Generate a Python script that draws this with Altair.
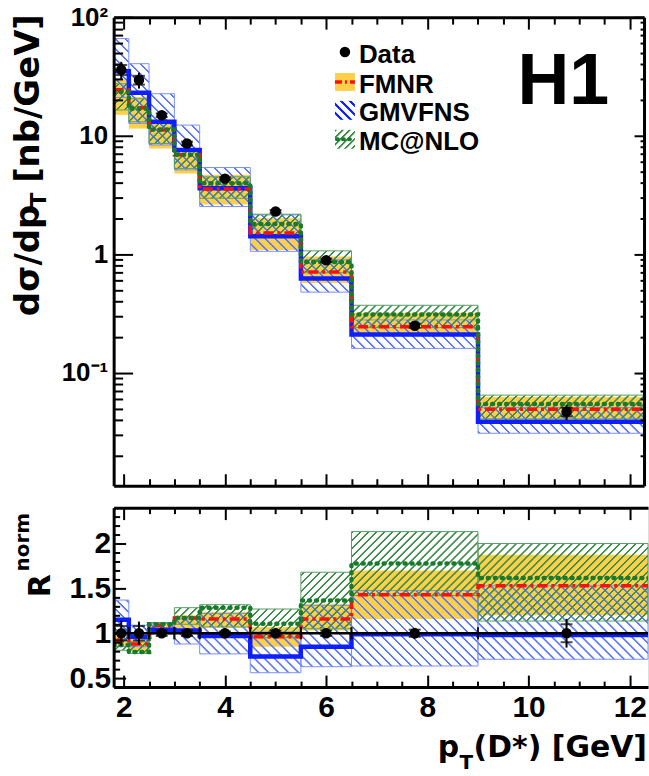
import math
import altair as alt
import pandas as pd

# ---------------- data ----------------
bin_lo = [1.8, 2.1, 2.5, 3.0, 3.5, 4.5, 5.5, 6.5, 9.0]
bin_hi = [2.1, 2.5, 3.0, 3.5, 4.5, 5.5, 6.5, 9.0, 12.5]
pt_x = [1.95, 2.3, 2.75, 3.25, 4.0, 5.0, 6.0, 7.75, 10.75]

data_xs = [36.0, 29.5, 14.9, 8.6, 4.35, 2.3, 0.89, 0.25, 0.047]
data_err = [6.0, 4.5, 1.3, 0.7, 0.3, 0.15, 0.07, 0.02, 0.007]
data_stat = [3.5, 2.5, 0.5, 0.3, 0.1, 0.06, 0.03, 0.01, 0.004]

fmnr = [24.4, 17.2, 11.2, 6.9, 3.55, 1.51, 0.71, 0.245, 0.0495]
fmnr_lo = [15.0, 11.5, 7.8, 4.8, 2.63, 1.09, 0.574, 0.205, 0.0408]
fmnr_hi = [30.0, 21.3, 13.1, 7.8, 4.7, 2.02, 0.96, 0.321, 0.0628]

gmvfns = [35.0, 23.0, 13.1, 7.6, 3.6, 1.42, 0.625, 0.211, 0.0387]
gmvfns_lo = [21.0, 12.7, 8.35, 5.15, 2.53, 1.06, 0.48, 0.161, 0.031]
gmvfns_hi = [66.0, 40.5, 22.6, 12.3, 5.4, 2.15, 0.90, 0.28, 0.051]

mcnlo = [23.5, 16.9, 11.3, 6.9, 3.97, 1.8, 0.86, 0.311, 0.0546]
mcnlo_lo = [16.5, 13.1, 8.6, 5.3, 2.97, 1.42, 0.70, 0.241, 0.041]
mcnlo_hi = [27.4, 20.5, 12.7, 7.6, 4.5, 2.18, 1.07, 0.372, 0.065]

r_data = [1.0, 1.0, 1.0, 1.0, 1.0, 1.0, 1.0, 1.0, 1.0]
r_err = [0.14, 0.13, 0.05, 0.05, 0.04, 0.04, 0.04, 0.06, 0.16]
r_stat = [0.08, 0.08, 0.03, 0.03, 0.02, 0.03, 0.03, 0.04, 0.10]
r_fmnr = [0.92, 0.88, 1.09, 1.17, 1.16, 0.96, 1.16, 1.43, 1.53]
r_fmnr_lo = [0.85, 0.80, 1.00, 1.05, 1.06, 0.85, 1.03, 1.16, 1.20]
r_fmnr_hi = [1.02, 0.95, 1.11, 1.20, 1.24, 1.07, 1.33, 1.70, 1.875]
r_gmvfns = [1.15, 0.96, 1.04, 1.03, 0.97, 0.74, 0.85, 0.99, 0.98]
r_gmvfns_lo = [0.85, 0.85, 0.99, 0.88, 0.77, 0.56, 0.627, 0.635, 0.71]
r_gmvfns_hi = [1.37, 1.09, 1.11, 1.16, 1.22, 1.015, 1.31, 1.476, 1.53]
r_mcnlo = [0.87, 0.79, 1.10, 1.17, 1.285, 1.107, 1.365, 1.778, 1.617]
r_mcnlo_lo = [0.81, 0.775, 1.05, 1.10, 1.07, 0.95, 1.05, 1.42, 1.136]
r_mcnlo_hi = [1.03, 0.905, 1.12, 1.285, 1.318, 1.27, 1.68, 2.133, 2.0]

x_major = [2, 4, 6, 8, 10, 12]
x_minor = [2.5, 3, 3.5, 4.5, 5, 5.5, 6.5, 7, 7.5, 8.5, 9, 9.5, 10.5, 11, 11.5]
top_y_major = [0.1, 1, 10, 100]
top_y_minor = [0.02, 0.03, 0.04, 0.05, 0.06, 0.07, 0.08, 0.09,
               0.2, 0.3, 0.4, 0.5, 0.6, 0.7, 0.8, 0.9,
               2, 3, 4, 5, 6, 7, 8, 9, 20, 30, 40, 50, 60, 70, 80, 90]
bot_y_major = [0.5, 1, 1.5, 2]
bot_y_minor = [0.6, 0.7, 0.8, 0.9, 1.1, 1.2, 1.3, 1.4, 1.6, 1.7, 1.8, 1.9, 2.1, 2.2, 2.3]

legend_labels = ["Data", "FMNR", "GMVFNS", "MC@NLO"]

# ---------------- geometry / style ----------------
TOP_W, TOP_H = 532, 470
BOT_W, BOT_H = 536, 180
TOP_X = [1.8, 12.28]
BOT_X = [1.8, 12.36]
TOP_Y = [0.0112, 100.0]
BOT_Y = [0.4, 2.4]

YEL = "#fdd04a"
BLUE_LINE = "#0d1eff"
BLUE_HATCH = "#5a76ff"
BLUE_EDGE = "#7b90ff"
RED = "#ff1010"
GREEN_LINE = "#1a7a2c"
GREEN_HATCH = "#3d8c4a"
GREEN_EDGE = "#5a9f64"
LAB_FONT = "Liberation Sans"
TIT_FONT = "DejaVu Sans"


def tpx(v):
    return (v - TOP_X[0]) / (TOP_X[1] - TOP_X[0]) * TOP_W


def tpy(v):
    return TOP_H * (math.log10(TOP_Y[1]) - math.log10(v)) / (math.log10(TOP_Y[1]) - math.log10(TOP_Y[0]))


def bpx(v):
    return (v - BOT_X[0]) / (BOT_X[1] - BOT_X[0]) * BOT_W


def bpy(v):
    return BOT_H * (BOT_Y[1] - v) / (BOT_Y[1] - BOT_Y[0])


def rgba(hexc, a):
    h = hexc.lstrip('#')
    return f"rgba({int(h[0:2], 16)},{int(h[2:4], 16)},{int(h[4:6], 16)},{a})"


def hatch(x0, y0, w, h, color, period, lw, direction):
    """Striped linear gradient (soft-edged stripes, no coincident stops) giving a 45-degree hatch."""
    w = max(w, 0.5)
    h = max(h, 0.5)
    L = w + h
    kk = L / (w * w + h * h)
    if direction == '/':
        g = dict(x1=0, y1=0, x2=kk * w, y2=kk * h)
        phase = -(x0 + y0)
    else:
        g = dict(x1=0, y1=1, x2=kk * w, y2=1 - kk * h)
        phase = -x0 + y0 + h
    clear = rgba(color, 0)
    core = 0.35 * lw
    edge = 0.75 * lw
    stops = []
    last = -1.0
    m = math.ceil((-edge - phase) / period)
    c = m * period + phase
    while c <= L + edge:
        for off, col in [(c - edge, clear), (c - core, color), (c + core, color), (c + edge, clear)]:
            o = round(off / L, 5)
            if 0.0 < o < 1.0 and o > last:
                stops.append({"offset": o, "color": col})
                last = o
        c += period
    stops = [{"offset": 0, "color": clear}] + stops + [{"offset": 1, "color": clear}]
    out = {"gradient": "linear", "stops": stops}
    out.update({key: round(val, 5) for key, val in g.items()})
    return out


def xs(field, dom):
    return alt.X(f"{field}:Q", scale=alt.Scale(domain=dom, nice=False, zero=False), axis=None)


def ys_top(field, axis=None):
    return alt.Y(f"{field}:Q", scale=alt.Scale(type='log', domain=TOP_Y, nice=False), axis=axis)


def ys_bot(field, axis=None):
    return alt.Y(f"{field}:Q", scale=alt.Scale(domain=BOT_Y, nice=False, zero=False), axis=axis)


def tick_axis(orient, values, size, labels=False, expr=None, lsize=30, lpad=6):
    kw = dict(orient=orient, values=values, tickSize=size, offset=-size, domain=False, grid=False,
              ticks=True, tickColor='black', tickWidth=2, labels=labels, title=None, zindex=2)
    if labels:
        kw.update(labelFont=LAB_FONT, labelFontWeight='bold', labelFontSize=lsize, labelColor='black',
                  labelPadding=lpad, labelOverlap=False, labelFlush=False, format='~g')
    if expr:
        kw['labelExpr'] = expr
    return alt.Axis(**kw)


def dom_axis(orient):
    return alt.Axis(orient=orient, domain=True, domainColor='black', domainWidth=3, ticks=False,
                    labels=False, grid=False, title=None, zindex=3, offset=0)


dummy = pd.DataFrame({"k": [0]})


def txt(s, x, y, size, font=LAB_FONT, angle=0, align='left', baseline='alphabetic', color='black'):
    return alt.Chart(dummy).mark_text(text=s, font=font, fontSize=size, fontWeight='bold', angle=angle,
                                      align=align, baseline=baseline, color=color).encode(
        x=alt.value(x), y=alt.value(y))


# ---------------- tables ----------------
n = len(bin_lo)
top_df = pd.DataFrame(dict(
    i=list(range(n)), lo=bin_lo, hi=bin_hi, mid=pt_x, data=data_xs,
    up=[d + e for d, e in zip(data_xs, data_err)], dn=[d - e for d, e in zip(data_xs, data_err)],
    sp=[d + e for d, e in zip(data_xs, data_stat)], sm=[d - e for d, e in zip(data_xs, data_stat)],
    fm_lo=fmnr_lo, fm_hi=fmnr_hi, gm_lo=gmvfns_lo, gm_hi=gmvfns_hi, mc_lo=mcnlo_lo, mc_hi=mcnlo_hi))
top_step = pd.DataFrame(dict(x=bin_lo + [bin_hi[-1]], fm=fmnr + [fmnr[-1]],
                             gm=gmvfns + [gmvfns[-1]], mc=mcnlo + [mcnlo[-1]]))

bot_df = pd.DataFrame(dict(
    i=list(range(n)), lo=bin_lo, hi=bin_hi, mid=pt_x, one=r_data,
    up=[d + e for d, e in zip(r_data, r_err)], dn=[d - e for d, e in zip(r_data, r_err)],
    sp=[d + e for d, e in zip(r_data, r_stat)], sm=[d - e for d, e in zip(r_data, r_stat)],
    fm_lo=r_fmnr_lo, fm_hi=r_fmnr_hi, gm_lo=r_gmvfns_lo, gm_hi=r_gmvfns_hi, mc_lo=r_mcnlo_lo, mc_hi=r_mcnlo_hi))
bot_step = pd.DataFrame(dict(x=bin_lo + [bin_hi[-1]], fm=r_fmnr + [r_fmnr[-1]],
                             gm=r_gmvfns + [r_gmvfns[-1]], mc=r_mcnlo + [r_mcnlo[-1]]))


def panel_layers(df, step, xdom, Y, pxf, pyf):
    L = []
    xmax = xdom[1]
    clip_hi = f"min(datum.hi, {xmax})"
    # FMNR band (solid yellow)
    L.append(alt.Chart(df).transform_calculate(hic=clip_hi).mark_rect(fill=YEL).encode(
        x=xs('lo', xdom), x2=alt.X2('hic:Q'), y=Y('fm_hi'), y2=alt.Y2('fm_lo')))
    # hatched bands, one layer per bin so that the hatch spacing is constant
    for lo_c, hi_c, col, edge, period, dirn in [('gm_lo', 'gm_hi', BLUE_HATCH, BLUE_EDGE, 10, '\\'),
                                                ('mc_lo', 'mc_hi', GREEN_HATCH, GREEN_EDGE, 8, '/')]:
        for i in range(n):
            x0 = pxf(df['lo'][i])
            x1 = pxf(min(df['hi'][i], xmax))
            y0 = pyf(df[hi_c][i])
            y1 = pyf(df[lo_c][i])
            grad = hatch(x0, y0, x1 - x0, y1 - y0, col, period, 2.0, dirn)
            L.append(alt.Chart(df).transform_filter(alt.datum.i == i).transform_calculate(
                hic=clip_hi).mark_rect(fill=grad, stroke=edge, strokeWidth=1).encode(
                x=xs('lo', xdom), x2=alt.X2('hic:Q'), y=Y(hi_c), y2=alt.Y2(lo_c)))
    # central predictions
    L.append(alt.Chart(step).mark_line(interpolate='step-after', clip=True, color=BLUE_LINE,
                                       strokeWidth=4.5).encode(x=xs('x', xdom), y=Y('gm')))
    L.append(alt.Chart(step).mark_line(interpolate='step-after', clip=True, color=RED, strokeWidth=3.5,
                                       strokeDash=[10, 4, 3, 4]).encode(x=xs('x', xdom), y=Y('fm')))
    L.append(alt.Chart(step).mark_line(interpolate='step-after', clip=True, color=GREEN_LINE, strokeWidth=4.5,
                                       strokeDash=[1, 6], strokeCap='round').encode(x=xs('x', xdom), y=Y('mc')))
    return L


def data_layers(df, xdom, Y, datacol, ratio):
    L = []
    if ratio:
        L.append(alt.Chart(df).mark_rule(color='black', strokeWidth=2.5, clip=True).encode(
            x=xs('lo', xdom), x2=alt.X2('hi'), y=Y(datacol)))
        for edge in ['lo', 'hi']:
            L.append(alt.Chart(df).mark_tick(orient='vertical', color='black', size=12, thickness=2,
                                             clip=True).encode(x=xs(edge, xdom), y=Y(datacol)))
    L.append(alt.Chart(df).mark_rule(color='black', strokeWidth=2).encode(
        x=xs('mid', xdom), y=Y('dn'), y2=alt.Y2('up')))
    for c in ['sp', 'sm']:
        L.append(alt.Chart(df).mark_tick(orient='horizontal', color='black', size=12, thickness=2).encode(
            x=xs('mid', xdom), y=Y(c)))
    L.append(alt.Chart(df).mark_circle(size=110, color='black', opacity=1).encode(
        x=xs('mid', xdom), y=Y(datacol)))
    return L


def carrier(df, xdom, Y, datacol, xaxis, yaxis):
    return alt.Chart(df).mark_point(opacity=0).encode(
        x=alt.X('mid:Q', scale=alt.Scale(domain=xdom, nice=False, zero=False), axis=xaxis),
        y=Y(datacol, axis=yaxis))


# ---------------- top panel ----------------
top_layers = [alt.Chart(dummy).mark_rect(fill='white', opacity=0).encode(
    x=alt.value(-113), x2=alt.value(536), y=alt.value(-15), y2=alt.value(761))]
top_layers += panel_layers(top_df, top_step, TOP_X, ys_top, tpx, tpy)
top_layers += data_layers(top_df, TOP_X, ys_top, 'data', False)

expr_top = "datum.value >= 99 ? '10²' : datum.value >= 9 ? '10' : datum.value >= 0.9 ? '1' : '10⁻¹'"
top_layers += [
    carrier(top_df, TOP_X, ys_top, 'data', tick_axis('bottom', x_major, 12),
            tick_axis('left', top_y_major, 19, labels=True, expr=expr_top, lsize=26, lpad=6)),
    carrier(top_df, TOP_X, ys_top, 'data', tick_axis('bottom', x_minor, 7), tick_axis('left', top_y_minor, 9)),
    carrier(top_df, TOP_X, ys_top, 'data', tick_axis('top', x_major, 12), tick_axis('right', top_y_major, 10)),
    carrier(top_df, TOP_X, ys_top, 'data', tick_axis('top', x_minor, 7), tick_axis('right', top_y_minor, 4)),
    carrier(top_df, TOP_X, ys_top, 'data', dom_axis('bottom'), dom_axis('left')),
    carrier(top_df, TOP_X, ys_top, 'data', dom_axis('top'), dom_axis('right')),
]

# legend (pixel positions relative to the top panel)
lx0, lx1 = 222, 242
top_layers += [
    alt.Chart(dummy).mark_circle(size=110, color='black', opacity=1).encode(x=alt.value(232), y=alt.value(35)),
    alt.Chart(dummy).mark_rect(fill=YEL).encode(x=alt.value(lx0), x2=alt.value(lx1), y=alt.value(56), y2=alt.value(74)),
    alt.Chart(dummy).mark_rule(color=RED, strokeWidth=3.5, strokeDash=[7, 3, 2, 3]).encode(
        x=alt.value(lx0), x2=alt.value(lx1), y=alt.value(65)),
    alt.Chart(dummy).mark_rect(fill=hatch(lx0, 84, 20, 19, BLUE_LINE, 9, 2.8, '\\')).encode(
        x=alt.value(lx0), x2=alt.value(lx1), y=alt.value(84), y2=alt.value(103)),
    alt.Chart(dummy).mark_rect(fill=hatch(lx0, 113, 20, 19, GREEN_HATCH, 7, 2.2, '/')).encode(
        x=alt.value(lx0), x2=alt.value(lx1), y=alt.value(113), y2=alt.value(132)),
    alt.Chart(dummy).mark_rule(color=GREEN_LINE, strokeWidth=4, strokeDash=[1, 5], strokeCap='round').encode(
        x=alt.value(lx0 + 2), x2=alt.value(lx1), y=alt.value(122.5)),
]
for lab, yb in zip(legend_labels, [45.7, 75.7, 104.5, 133]):
    top_layers.append(txt(lab, 246, yb, 26))
top_layers.append(txt("H1", 405, 87, 72))

# y title: dσ/dp_T [nb/GeV]
top_layers += [
    txt("dσ/dp", -75, 300, 34, font=TIT_FONT, angle=270, align='left'),
    txt("T", -68, 191, 22, font=TIT_FONT, angle=270, align='left'),
    txt("[nb/GeV]", -75, -3, 34, font=TIT_FONT, angle=270, align='right'),
]

top = alt.layer(*top_layers).resolve_axis(x='independent', y='independent').properties(
    width=TOP_W, height=TOP_H)

# ---------------- bottom (ratio) panel ----------------
bot_layers = panel_layers(bot_df, bot_step, BOT_X, ys_bot, bpx, bpy)
bot_layers += data_layers(bot_df, BOT_X, ys_bot, 'one', True)
bot_layers += [
    carrier(bot_df, BOT_X, ys_bot, 'one', tick_axis('bottom', x_major, 12, labels=True, lsize=30, lpad=6),
            tick_axis('left', bot_y_major, 12, labels=True, lsize=30, lpad=3)),
    carrier(bot_df, BOT_X, ys_bot, 'one', tick_axis('bottom', x_minor, 6), tick_axis('left', bot_y_minor, 6)),
    carrier(bot_df, BOT_X, ys_bot, 'one', tick_axis('top', x_major, 12), None),
    carrier(bot_df, BOT_X, ys_bot, 'one', tick_axis('top', x_minor, 6), None),
    carrier(bot_df, BOT_X, ys_bot, 'one', dom_axis('bottom'), dom_axis('left')),
    carrier(bot_df, BOT_X, ys_bot, 'one', dom_axis('top'), None),
]
# R^norm and x title
bot_layers += [
    txt("R", -64, 90, 30, font=TIT_FONT, angle=270, align='left'),
    txt("norm", -85, 64, 20, font=TIT_FONT, angle=270, align='left'),
    txt("p", 325, 250, 30, font=TIT_FONT),
    txt("T", 347, 262, 20, font=TIT_FONT),
    txt("(D*) [GeV]", 535, 250, 30, font=TIT_FONT, align='right'),
]

bottom = alt.layer(*bot_layers).resolve_axis(x='independent', y='independent').properties(
    width=BOT_W, height=BOT_H)

chart = alt.vconcat(top, bottom, spacing=22, bounds='flush').properties(
    padding=0).configure_view(stroke=None).configure(background='white')

chart.save("out.html", embed_options={"renderer": "svg", "actions": False})
